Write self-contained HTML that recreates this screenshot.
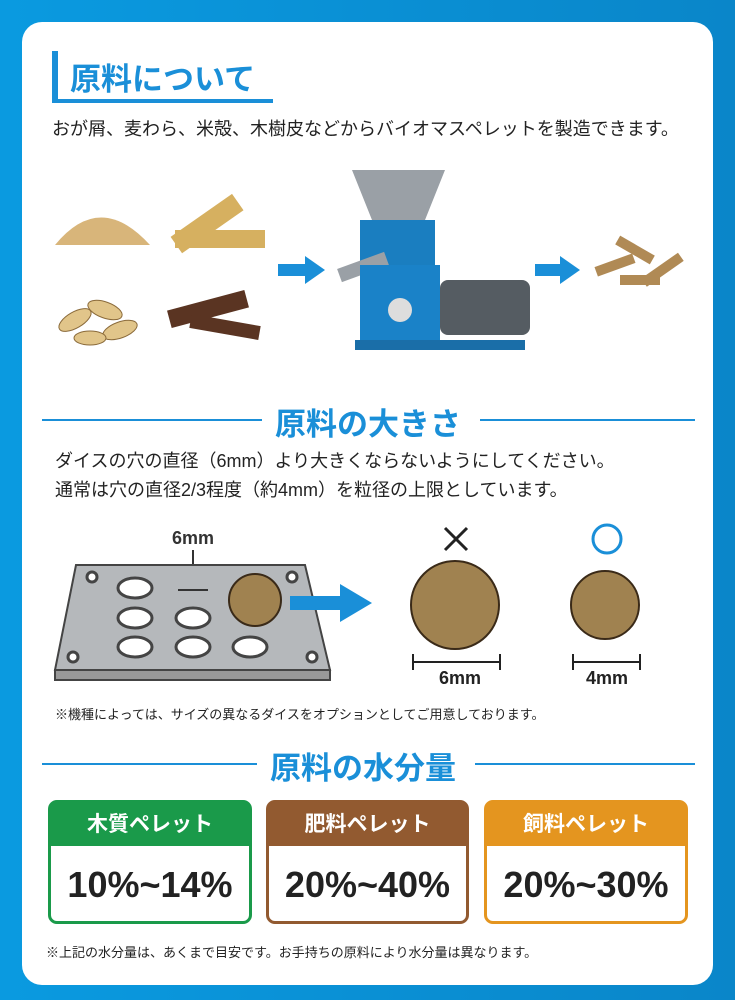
<!DOCTYPE html>
<html><head><meta charset="utf-8"><style>
*{margin:0;padding:0;box-sizing:border-box}
body{width:735px;height:1000px;background:linear-gradient(90deg,#0a9ae0,#0a86c9);position:relative;overflow:hidden;font-family:"Liberation Sans","Noto Sans CJK JP",sans-serif;color:#222}
.card{position:absolute;left:22px;top:22px;width:691px;height:963px;background:#fff;border-radius:20px}
.a{position:absolute;white-space:nowrap}
.h2{font-size:31px;font-weight:bold;color:#1a8fd8}
.line{position:absolute;height:2px;background:#1a8fd8}
.box{position:absolute;top:800px;height:124px;border-radius:9px;border:3px solid}
.box .hd{height:43px;color:#fff;font-size:21px;font-weight:bold;text-align:center;line-height:43px}
.box .v{text-align:center;font-size:36px;font-weight:bold;line-height:78px;color:#222}
</style></head><body>
<div class="card"></div>
<div class="a" style="left:52px;top:51px;width:6px;height:52px;background:#1a8fd8"></div>
<div class="a" style="left:52px;top:99px;width:221px;height:4px;background:#1a8fd8"></div>
<div class="a h2" style="left:70px;top:54px">原料について</div>
<div class="a" style="left:52px;top:115px;font-size:18px">おが屑、麦わら、米殻、木樹皮などからバイオマスペレットを製造できます。</div>

<svg class="a" style="left:0;top:160px" width="735" height="210">
<path d="M55 85 Q100 30 150 85 Z" fill="#d8b57a"/>
<g fill="#d6b060"><rect x="170" y="55" width="75" height="20" transform="rotate(-35 205 65)"/><rect x="175" y="70" width="90" height="18"/></g>
<g fill="#e1c58a" stroke="#8a6a3a"><ellipse cx="75" cy="160" rx="18" ry="8" transform="rotate(-30 75 160)"/><ellipse cx="105" cy="150" rx="18" ry="8" transform="rotate(20 105 150)"/><ellipse cx="120" cy="170" rx="18" ry="8" transform="rotate(-20 120 170)"/><ellipse cx="90" cy="178" rx="16" ry="7"/></g>
<g fill="#5a3422"><rect x="168" y="140" width="80" height="18" transform="rotate(-15 208 149)"/><rect x="190" y="160" width="70" height="14" transform="rotate(10 225 167)"/></g>
<polygon points="278,104 305,104 305,96 325,110 305,124 305,116 278,116" fill="#1a8fd8"/>
<polygon points="535,104 560,104 560,96 580,110 560,124 560,116 535,116" fill="#1a8fd8"/>
<polygon points="352,10 445,10 425,60 372,60" fill="#9aa0a6"/>
<rect x="360" y="60" width="75" height="45" fill="#1a7ec0"/>
<rect x="338" y="100" width="50" height="14" fill="#9aa0a6" transform="rotate(-20 363 107)"/>
<rect x="360" y="105" width="80" height="75" fill="#1a82c8"/>
<circle cx="400" cy="150" r="12" fill="#ddd"/>
<rect x="440" y="120" width="90" height="55" rx="8" fill="#555c62"/>
<rect x="355" y="180" width="170" height="10" fill="#1a6ea8"/>
<g fill="#b08a55"><rect x="595" y="100" width="40" height="10" transform="rotate(-20 615 105)"/><rect x="615" y="85" width="40" height="10" transform="rotate(30 635 90)"/><rect x="640" y="105" width="45" height="10" transform="rotate(-35 662 110)"/><rect x="620" y="115" width="40" height="10"/></g>
</svg>

<div class="line" style="left:42px;top:419px;width:220px"></div>
<div class="line" style="left:480px;top:419px;width:215px"></div>
<div class="a h2" style="left:275px;top:399px">原料の大きさ</div>
<div class="a" style="left:55px;top:447px;font-size:18px;line-height:29px">ダイスの穴の直径（6mm）より大きくならないようにしてください。<br>通常は穴の直径2/3程度（約4mm）を粒径の上限としています。</div>

<svg class="a" style="left:0;top:520px" width="735" height="180">
<text x="193" y="24" font-size="18" font-weight="bold" text-anchor="middle" fill="#333" font-family="Liberation Sans">6mm</text>
<line x1="193" y1="30" x2="193" y2="70" stroke="#333" stroke-width="2"/>
<polygon points="76,45 305,45 330,150 55,150" fill="#b5b8bb" stroke="#444" stroke-width="2"/>
<rect x="55" y="150" width="275" height="10" fill="#999" stroke="#444" stroke-width="2"/>
<g fill="#fff" stroke="#444" stroke-width="3">
<ellipse cx="135" cy="68" rx="17" ry="10"/><ellipse cx="135" cy="98" rx="17" ry="10"/><ellipse cx="135" cy="127" rx="17" ry="10"/>
<ellipse cx="193" cy="98" rx="17" ry="10"/><ellipse cx="193" cy="127" rx="17" ry="10"/><ellipse cx="250" cy="127" rx="17" ry="10"/>
<circle cx="92" cy="57" r="5"/><circle cx="292" cy="57" r="5"/><circle cx="73" cy="137" r="5"/><circle cx="312" cy="137" r="5"/></g>
<line x1="178" y1="70" x2="208" y2="70" stroke="#333" stroke-width="2"/>
<circle cx="255" cy="80" r="26" fill="#a08250" stroke="#3a2a18" stroke-width="2"/>
<polygon points="290,76 340,76 340,64 372,83 340,102 340,90 290,90" fill="#1a8fd8"/>
<path d="M445 8 L467 30 M467 8 L445 30" stroke="#222" stroke-width="3"/>
<circle cx="607" cy="19" r="14" fill="none" stroke="#1a8fd8" stroke-width="3"/>
<circle cx="455" cy="85" r="44" fill="#a08250" stroke="#3a2a18" stroke-width="2"/>
<circle cx="605" cy="85" r="34" fill="#a08250" stroke="#3a2a18" stroke-width="2"/>
<path d="M413 134 V150 M413 142 H500 M500 134 V150 M573 134 V150 M573 142 H640 M640 134 V150" stroke="#222" stroke-width="2"/>
<text x="460" y="164" font-size="18" font-weight="bold" text-anchor="middle" fill="#222" font-family="Liberation Sans">6mm</text>
<text x="607" y="164" font-size="18" font-weight="bold" text-anchor="middle" fill="#222" font-family="Liberation Sans">4mm</text>
</svg>
<div class="a" style="left:55px;top:704px;font-size:13px">※機種によっては、サイズの異なるダイスをオプションとしてご用意しております。</div>

<div class="line" style="left:42px;top:763px;width:215px"></div>
<div class="line" style="left:475px;top:763px;width:220px"></div>
<div class="a h2" style="left:270px;top:743px">原料の水分量</div>

<div class="box" style="left:48px;width:204px;border-color:#1a9a4a"><div class="hd" style="background:#1a9a4a">木質ペレット</div><div class="v">10%~14%</div></div>
<div class="box" style="left:266px;width:203px;border-color:#925a30"><div class="hd" style="background:#925a30">肥料ペレット</div><div class="v">20%~40%</div></div>
<div class="box" style="left:484px;width:204px;border-color:#e4951f"><div class="hd" style="background:#e4951f">飼料ペレット</div><div class="v">20%~30%</div></div>
<div class="a" style="left:46px;top:942px;font-size:13px">※上記の水分量は、あくまで目安です。お手持ちの原料により水分量は異なります。</div>
</body></html>
